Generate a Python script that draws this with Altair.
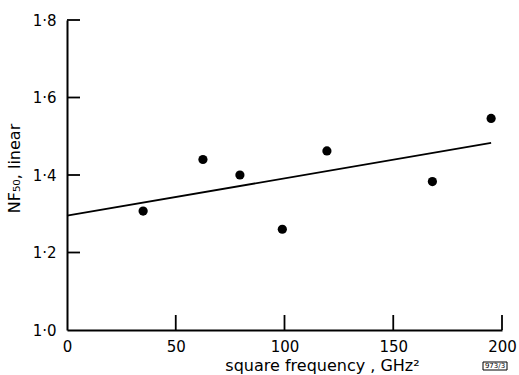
import altair as alt
import pandas as pd

# measured data points
freq_sq = [35, 62.5, 79.5, 99, 119.5, 168, 195]
nf50 = [1.307, 1.44, 1.40, 1.26, 1.462, 1.383, 1.546]

# fitted line end points
fit_x = [0, 195]
fit_y = [1.295, 1.483]

x_ticks = [0, 50, 100, 150, 200]
y_ticks = [1.0, 1.2, 1.4, 1.6, 1.8]
x_inner_ticks = [50, 100, 150, 200]
y_inner_ticks = [1.2, 1.4, 1.6, 1.8]

pts = pd.DataFrame({"x": freq_sq, "y": nf50})
fit = pd.DataFrame({"x": fit_x, "y": fit_y})
xt = pd.DataFrame({"x": x_inner_ticks})
yt = pd.DataFrame({"y": y_inner_ticks})

FONT = "DejaVu Sans"

xscale = alt.Scale(domain=[0, 200], nice=False, zero=False)
yscale = alt.Scale(domain=[1.0, 1.8], nice=False, zero=False)

xaxis = alt.Axis(
    values=x_ticks, format="d", tickSize=0, labelPadding=9, grid=False,
    labelFlush=False,
    domainColor="black", domainWidth=2, labelFontSize=15, labelColor="black",
    labelFont=FONT, title="square frequency , GHz²", titleFont=FONT,
    titleFontSize=16, titleFontWeight="normal", titleColor="black",
    titleX=255, titleY=40, titleAnchor="middle", titleAlign="center",
    titleBaseline="alphabetic",
)
yaxis = alt.Axis(
    values=y_ticks, labelExpr="replace(format(datum.value, '.1f'), '.', '·')",
    tickSize=0, labelPadding=11, grid=False, domainColor="black",
    labelFlush=False,
    domainWidth=2, labelFontSize=15, labelColor="black", labelFont=FONT,
    title="NF₅₀, linear", titleFont=FONT, titleFontSize=16,
    titleFontWeight="normal", titleColor="black", titleX=-45, titleY=148,
    titleAngle=270, titleAlign="center", titleBaseline="bottom",
)

points = alt.Chart(pts).mark_circle(size=85, color="black", opacity=1).encode(
    x=alt.X("x:Q", scale=xscale, axis=xaxis),
    y=alt.Y("y:Q", scale=yscale, axis=yaxis),
)
line = alt.Chart(fit).mark_line(color="black", strokeWidth=1.8).encode(
    x=alt.X("x:Q", scale=xscale), y=alt.Y("y:Q", scale=yscale)
)
xtick_marks = alt.Chart(xt).mark_rule(color="black", strokeWidth=1.8).encode(
    x=alt.X("x:Q", scale=xscale), y=alt.value(310), y2=alt.value(295)
)
ytick_marks = alt.Chart(yt).mark_rule(color="black", strokeWidth=1.8).encode(
    y=alt.Y("y:Q", scale=yscale), x=alt.value(0), x2=alt.value(13)
)
tag = alt.Chart(pd.DataFrame({"t": ["973/3"]})).mark_text(
    fontSize=7, font=FONT, color="black", align="center", baseline="middle", clip=False
).encode(text="t:N", x=alt.value(428), y=alt.value(346))
tag_box = alt.Chart(pd.DataFrame({"t": ["973/3"]})).mark_rect(
    fill="white", stroke="black", strokeWidth=1, clip=False
).encode(x=alt.value(416), x2=alt.value(440), y=alt.value(342), y2=alt.value(350))

chart = (
    alt.layer(line, points, xtick_marks, ytick_marks, tag_box, tag)
    .properties(
        width=435, height=310,
        autosize=alt.AutoSizeParams(type="none"),
        padding={"left": 67, "top": 20, "right": 17, "bottom": 45},
        background="white",
    )
    .configure_view(strokeWidth=0)
)

chart.save("out.html", embed_options={"renderer": "svg", "actions": False})
